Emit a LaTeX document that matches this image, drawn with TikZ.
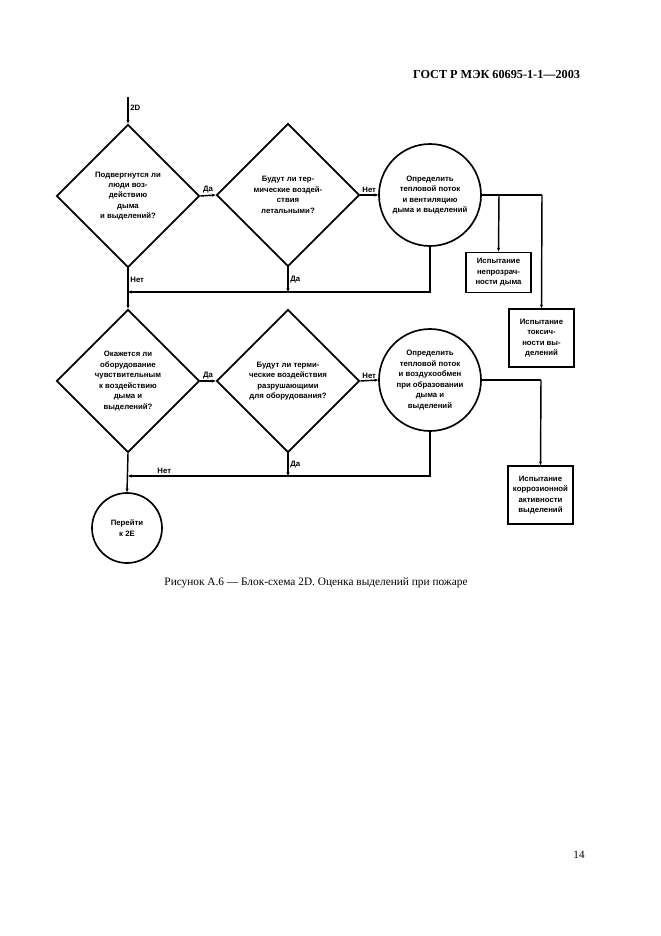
\documentclass[tikz,border=0pt]{standalone}
\usepackage{fontspec}
\setmainfont{Liberation Serif}
\newfontfamily\dsans{Liberation Sans}
\usetikzlibrary{shapes.geometric,arrows.meta}

\begin{document}
\begin{tikzpicture}[x=0.9pt,y=-0.9pt,
  ask/.style={diamond,draw,line width=1.6pt,minimum size=128.5pt,inner sep=0pt,align=center,font=\dsans\bfseries\fontsize{7}{9.4}\selectfont},
  act/.style={circle,draw,line width=1.5pt,inner sep=0pt,align=center,font=\dsans\bfseries\fontsize{7}{9.4}\selectfont},
  test/.style={rectangle,draw,line width=1.6pt,inner sep=0pt,minimum width=58.5pt,align=center,font=\dsans\bfseries\fontsize{7}{9.4}\selectfont},
  lbl/.style={font=\dsans\bfseries\fontsize{7}{8}\selectfont,inner sep=1.5pt},
  arr/.style={-{Stealth[length=3.5pt,width=2.8pt]},line width=1.3pt},
  ln/.style={line width=1.3pt}]
\useasboundingbox (0,0) rectangle (661,936);

\node[anchor=east] (head) at (584,74) {\bfseries\fontsize{11}{13}\selectfont ГОСТ Р МЭК 60695-1-1—2003};

\coordinate (start) at (128,97);
\node[ask] (d1) at (128,196) {Подвергнутся ли\\люди воз-\\действию\\дыма\\и выделений?};
\node[ask] (d2) at (288,195) {Будут ли тер-\\мические воздей-\\ствия\\летальными?};
\node[act,minimum size=91.8pt] (c1) at (430,195) {Определить\\тепловой поток\\и вентиляцию\\дыма и выделений};
\node[test,minimum height=36pt] (b1) at (498.5,272.5) {Испытание\\непрозрач-\\ности дыма};
\node[test,minimum height=52pt] (b2) at (541.5,338) {Испытание\\токсич-\\ности вы-\\делений};

\node[ask] (d3) at (128,381) {Окажется ли\\оборудование\\чувствительным\\к воздействию\\дыма и\\выделений?};
\node[ask] (d4) at (288,381) {Будут ли терми-\\ческие воздействия\\разрушающими\\для оборудования?};
\node[act,minimum size=91.8pt] (c2) at (430,380) {Определить\\тепловой поток\\и воздухообмен\\при образовании\\дыма и\\выделений};
\node[test,minimum height=52pt] (b3) at (540.5,495) {Испытание\\коррозионной\\активности\\выделений};
\node[act,minimum size=63pt] (c3) at (127,528) {Перейти\\к 2Е};

\coordinate (r1) at (542,195);
\coordinate (r1a) at (499,195);
\coordinate (j1) at (128,292);
\coordinate (j1a) at (288,292);
\coordinate (r2) at (541,380);
\coordinate (j2) at (128,476);
\coordinate (j2a) at (288,476);

\draw[arr] (start) -- node[lbl,right,pos=0.4]{2D} (d1.north);
\draw[arr] (d1.east) -- node[lbl,above]{Да} (d2.west);
\draw[arr] (d2.east) -- node[lbl,above]{Нет} (c1.west);
\draw[ln] (c1.east) -- (r1);
\draw[arr] (r1) -- (b2.north);
\draw[arr] (r1a) -- (b1.north);
\draw[arr] (c1.south) |- (j1);
\draw[arr] (d2.south) -- node[lbl,right]{Да} (j1a);
\draw[arr] (d1.south) -- node[lbl,right,pos=0.28]{Нет} (d3.north);

\draw[arr] (d3.east) -- node[lbl,above]{Да} (d4.west);
\draw[arr] (d4.east) -- node[lbl,above]{Нет} (c2.west);
\draw[ln] (c2.east) -- (r2);
\draw[arr] (r2) -- (b3.north);
\draw[arr] (c2.south) |- node[lbl,above,pos=0.94]{Нет} (j2);
\draw[arr] (d4.south) -- node[lbl,right]{Да} (j2a);
\draw[arr] (d3.south) -- (c3.north);

\node (cap) at (316,583) {\fontsize{10.2}{12}\selectfont Рисунок А.6 — Блок-схема 2D. Оценка выделений при пожаре};
\node (page) at (579,855) {\fontsize{10}{12}\selectfont 14};
\end{tikzpicture}
\end{document}
